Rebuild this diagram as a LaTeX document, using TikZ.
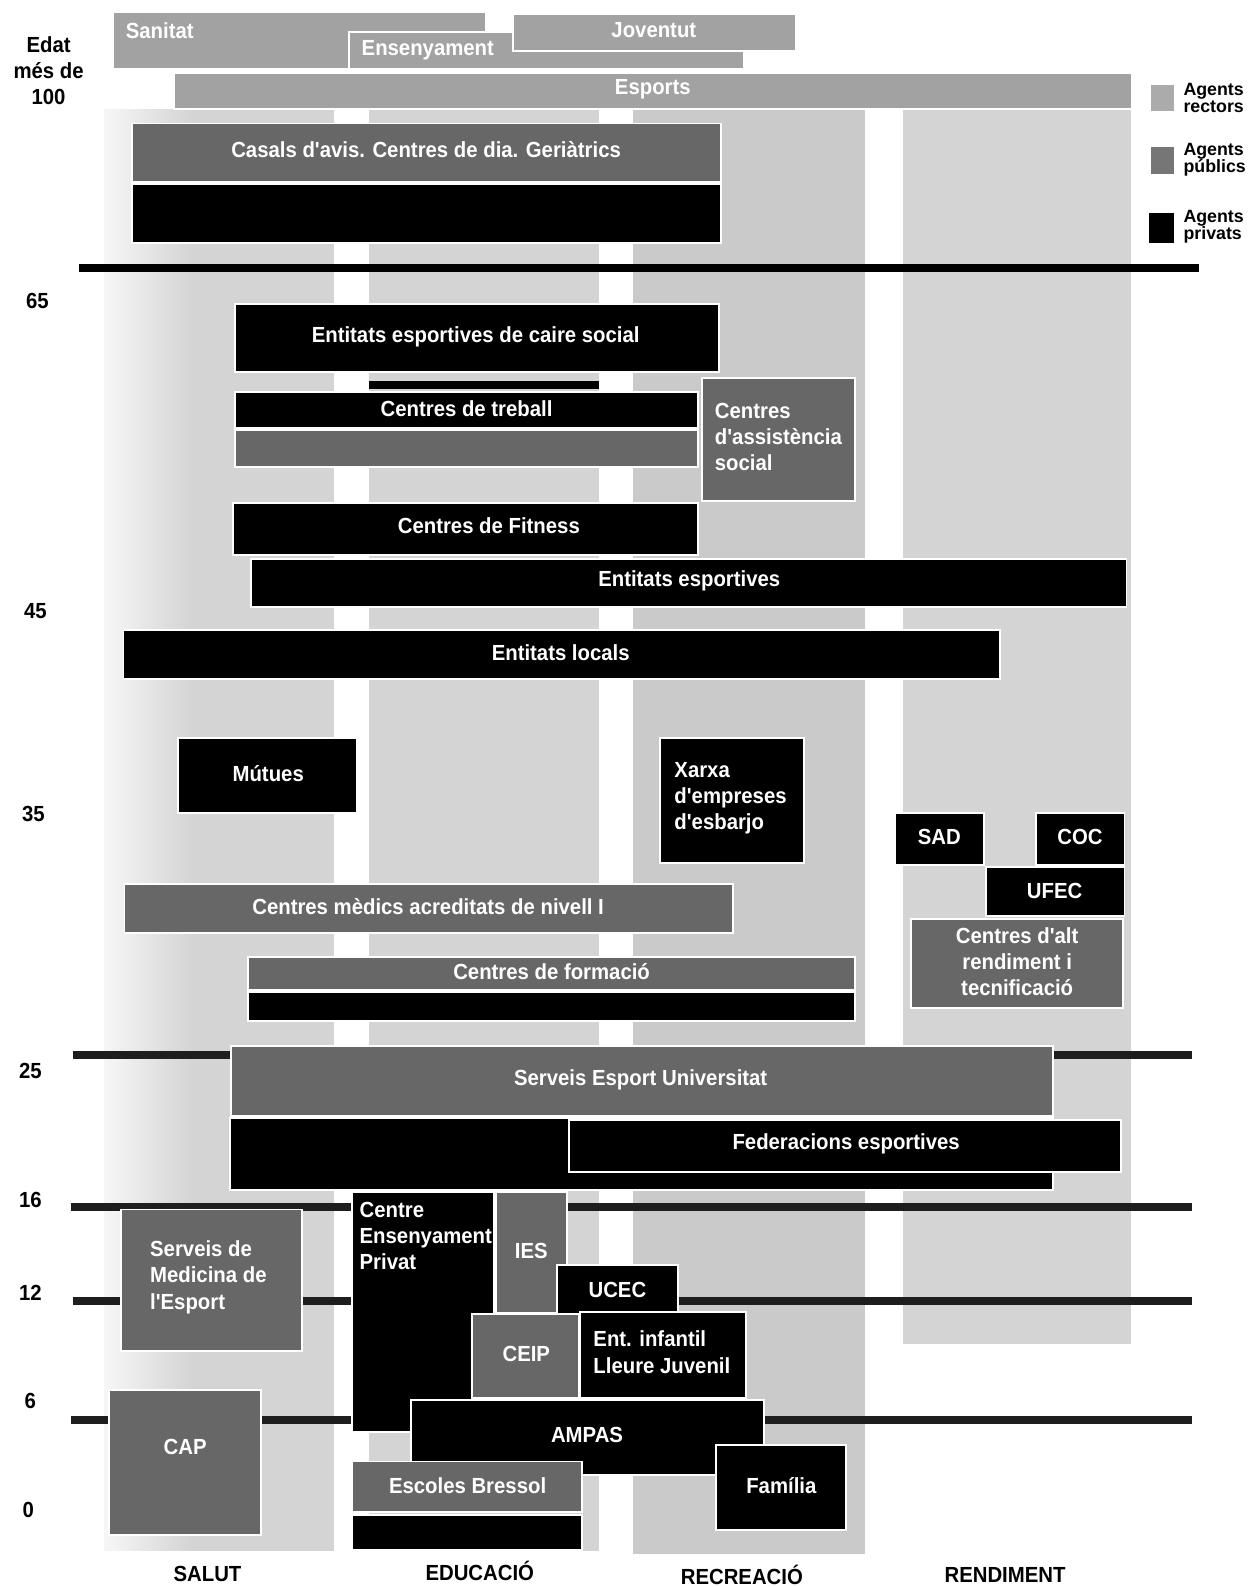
\documentclass[tikz,border=0pt]{standalone}
\usepackage{fontspec}
\setmainfont{Liberation Sans}
\newfontfamily\narrowsans{Liberation Sans}[FakeStretch=0.93]
\usepackage{tikz}
\usetikzlibrary{fit}

\definecolor{colgray}{HTML}{D4D4D4}
\definecolor{recgray}{HTML}{CACACA}
\definecolor{rectgray}{HTML}{A2A2A2}
\definecolor{pubgray}{HTML}{676767}
\definecolor{linegray}{HTML}{1E1E1E}
\newcommand{\boxfont}{\narrowsans\fontsize{12.3}{14.7}\selectfont\bfseries}
\newcommand{\keyfont}{\fontsize{10}{9.6}\selectfont\bfseries}

\begin{document}
\begin{tikzpicture}[x=0.02cm, y=-0.02cm,
        agebar/.style={line width=4.5pt, draw=linegray},
        panel/.style={draw=white, line width=1.1pt, inner sep=0pt},
        rector/.style={panel, fill=rectgray},
        public/.style={panel, fill=pubgray},
        private/.style={panel, fill=black},
        boxtext/.style={text=white, font=\boxfont, inner sep=0pt},
        axislabel/.style={text=black, font=\boxfont, inner sep=0pt},
        keylabel/.style={text=black, font=\keyfont, align=left, anchor=west, inner sep=0pt}]
        \fill [white] (0,0) rectangle (1234,1568);
        \useasboundingbox (0,0) rectangle (1234,1568);
        % columns
        \shade [left color=colgray!20, right color=colgray] (103,108) rectangle (190,1532);
        \fill [colgray] (190,108) rectangle (330,1532);
        \fill [colgray] (365,108) rectangle (592,1532);
        \fill [recgray] (625,108) rectangle (855,1535);
        \fill [colgray] (892,108) rectangle (1117,1328);
        % age lines
        \draw [agebar, draw=black] (78,265) -- (1185,265);
        \draw [agebar] (72,1042) -- (1178,1042);
        \draw [agebar] (70,1193) -- (1178,1193);
        \draw [agebar] (72,1285) -- (1178,1285);
        \draw [agebar] (70,1403) -- (1178,1403);

        \node [rector, fit={(112,12) (480,68)}] (sanitat) {};
        \node [boxtext, anchor=west] (sanitat-t) at (124,30) {Sanitat};
        \node [rector, fit={(345,32) (735,68)}] (ensenyament) {};
        \node [boxtext, anchor=west] (ensenyament-t) at (357,50) {Ensenyament};
        \node [rector, fit={(507,14) (786,50)}] (joventut) {};
        \node [boxtext] (joventut-t) at (646,30) {Joventut};
        \node [rector, fit={(172,72) (1118,108)}] (esports) {};
        \node [boxtext] (esports-t) at (645,88) {Esports};

        \node [public, fit={(130,122) (712,180)}] (casals) {};
        \node [boxtext] (casals-t) at (421,148) {Casals d'avis. Centres de dia. Geriàtrics};
        \node [private, fit={(130,182) (712,240)}] (casals-p) {};
        \node [private, fit={(232,300) (710,368)}] (caire) {};
        \node [boxtext] (caire-t) at (470,333) {Entitats esportives de caire social};
        \node [fill=black, inner sep=0pt, fit={(365,376) (592,384)}] (treball-b) {};
        \node [private, fit={(232,387) (690,423)}] (treball) {};
        \node [boxtext] (treball-t) at (461,404) {Centres de treball};
        \node [public, fit={(232,425) (690,461)}] (treball-p) {};
        \node [public, fit={(694,373) (845,495)}] (assistencia) {};
        \node [boxtext, align=left, anchor=west] (assistencia-t) at (706,432) {Centres\\d'assistència\\social};
        \node [private, fit={(230,497) (690,548)}] (fitness) {};
        \node [boxtext] (fitness-t) at (483,519) {Centres de Fitness};
        \node [private, fit={(248,552) (1113,600)}] (entitats) {};
        \node [boxtext] (entitats-t) at (681,574) {Entitats esportives};
        \node [private, fit={(122,622) (988,671)}] (locals) {};
        \node [boxtext] (locals-t) at (554,645) {Entitats locals};
        \node [private, fit={(176,729) (353,803)}] (mutues) {};
        \node [boxtext] (mutues-t) at (265,764) {Mútues};
        \node [private, fit={(652,729) (794,853)}] (xarxa) {};
        \node [boxtext, align=left, anchor=west] (xarxa-t) at (666,789) {Xarxa\\d'empreses\\d'esbarjo};
        \node [private, fit={(884,803) (972,855)}] (sad) {};
        \node [boxtext] (sad-t) at (928,827) {SAD};
        \node [private, fit={(1024,803) (1111,855)}] (coc) {};
        \node [boxtext] (coc-t) at (1067,827) {COC};
        \node [private, fit={(974,857) (1111,905)}] (ufec) {};
        \node [boxtext] (ufec-t) at (1042,880) {UFEC};
        \node [public, fit={(900,908) (1110,996)}] (altrend) {};
        \node [boxtext, align=center] (altrend-t) at (1005,950) {Centres d'alt\\rendiment i\\tecnificació};
        \node [public, fit={(123,873) (724,922)}] (medics) {};
        \node [boxtext] (medics-t) at (423,896) {Centres mèdics acreditats de nivell I};
        \node [public, fit={(245,946) (845,978)}] (formacio) {};
        \node [boxtext] (formacio-t) at (545,960) {Centres de formació};
        \node [private, fit={(245,980) (845,1009)}] (formacio-p) {};
        \node [public, fit={(228,1033) (1040,1103)}] (universitat) {};
        \node [boxtext] (universitat-t) at (633,1067) {Serveis Esport Universitat};
        \node [private, fit={(227,1105) (1040,1176)}] (universitat-p) {};
        \node [private, fit={(562,1107) (1108,1158)}] (federacions) {};
        \node [boxtext] (federacions-t) at (836,1130) {Federacions esportives};

        \node [public, fit={(120,1195) (298,1335)}] (medicina) {};
        \node [boxtext, align=left, anchor=west] (medicina-t) at (148,1262) {Serveis de\\Medicina de\\l'Esport};
        \node [private, fit={(348,1178) (488,1415)}] (privat) {};
        \node [boxtext, align=left, anchor=north west] (privat-t) at (355,1187) {Centre\\Ensenyament\\Privat};
        \node [public, fit={(490,1178) (560,1297)}] (ies) {};
        \node [boxtext] (ies-t) at (525,1236) {IES};
        \node [private, fit={(550,1250) (670,1298)}] (ucec) {};
        \node [boxtext] (ucec-t) at (610,1275) {UCEC};
        \node [public, fit={(466,1298) (572,1381)}] (ceip) {};
        \node [boxtext] (ceip-t) at (520,1338) {CEIP};
        \node [private, fit={(573,1296) (737,1381)}] (lleure) {};
        \node [boxtext, align=left, anchor=west] (lleure-t) at (586,1336) {Ent. infantil\\Lleure Juvenil};
        \node [private, fit={(406,1383) (755,1457)}] (ampas) {};
        \node [boxtext] (ampas-t) at (580,1418) {AMPAS};
        \node [private, fit={(707,1428) (836,1512)}] (familia) {};
        \node [boxtext] (familia-t) at (772,1468) {Família};
        \node [public, fit={(108,1373) (258,1517)}] (cap) {};
        \node [boxtext] (cap-t) at (183,1430) {CAP};
        \node [public, fit={(348,1444) (575,1494)}] (bressol) {};
        \node [boxtext] (bressol-t) at (462,1468) {Escoles Bressol};
        \node [private, fit={(348,1497) (575,1531)}] (bressol-p) {};

        % key
        \node [fill=rectgray!90, inner sep=0pt, fit={(1137,84) (1160,110)}] (rectors) {};
        \node [keylabel] (rectors-t) at (1169,97) {Agents\\rectors};
        \node [fill=pubgray!90, inner sep=0pt, fit={(1137,145) (1160,172)}] (publics) {};
        \node [keylabel] (publics-t) at (1169,158) {Agents\\públics};
        \node [fill=black, inner sep=0pt, fit={(1135,210) (1160,240)}] (privats) {};
        \node [keylabel] (privats-t) at (1169,224) {Agents\\privats};

        % ages and areas
        \node [axislabel, align=center] (edat) at (48,70) {Edat\\més de\\100};
        \node [axislabel] (a65) at (37,297) {65};
        \node [axislabel] (a45) at (35,604) {45};
        \node [axislabel] (a35) at (33,804) {35};
        \node [axislabel] (a25) at (30,1058) {25};
        \node [axislabel] (a16) at (30,1186) {16};
        \node [axislabel] (a12) at (30,1277) {12};
        \node [axislabel] (a6) at (30,1384) {6};
        \node [axislabel] (a0) at (28,1492) {0};
        \node [axislabel] (salut) at (205,1555) {SALUT};
        \node [axislabel] (educacio) at (474,1552) {EDUCACIÓ};
        \node [axislabel] (recreacio) at (733,1556) {RECREACIÓ};
        \node [axislabel] (rendiment) at (993,1556) {RENDIMENT};
    \end{tikzpicture}
\end{document}
